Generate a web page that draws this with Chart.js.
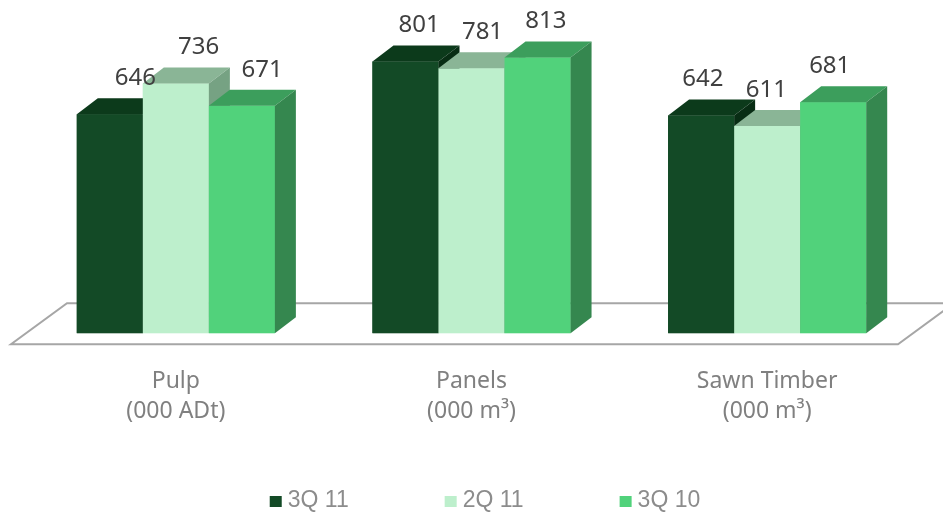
<!DOCTYPE html>
<html>
<head>
<meta charset="utf-8">
<script src="https://cdn.jsdelivr.net/npm/chart.js@4.4.0/dist/chart.umd.min.js"></script>
<style>
html, body { margin: 0; padding: 0; background: #fff; }
</style>
</head>
<body>
<canvas id="chart" width="943" height="514"></canvas>
<script>
var categories = [["Pulp", "(000 ADt)"], ["Panels", "(000 m³)"], ["Sawn Timber", "(000 m³)"]];
var seriesNames = ["3Q 11", "2Q 11", "3Q 10"];
var series3Q11 = [646, 801, 642];
var series2Q11 = [736, 781, 611];
var series3Q10 = [671, 813, 681];

var frontColors = ["#134a26", "#bdefcc", "#51d27b"];
var topColors = ["#0c3a1b", "#8ab596", "#3c9e5c"];
var sideColors = ["#082d14", "#76a283", "#35874f"];

// depth of the fake 3d
var depthX = 21;
var depthY = 16;

function poly(ctx, pts, fill) {
    ctx.beginPath();
    ctx.moveTo(pts[0][0], pts[0][1]);
    for (let i = 1; i < pts.length; i++) {
        ctx.lineTo(pts[i][0], pts[i][1]);
    }
    ctx.closePath();
    ctx.fillStyle = fill;
    ctx.fill();
}

var floorPlugin = {
    id: "floor",
    beforeDatasetsDraw: function(chart) {
        var ctx = chart.ctx;
        var a = chart.chartArea;
        ctx.save();
        ctx.beginPath();
        ctx.moveTo(a.left - 17, a.bottom + 11);
        ctx.lineTo(a.right - 17, a.bottom + 11);
        ctx.lineTo(a.right + 39, a.bottom - 30);
        ctx.lineTo(a.left + 39, a.bottom - 30);
        ctx.closePath();
        ctx.fillStyle = "#ffffff";
        ctx.fill();
        ctx.lineWidth = 2;
        ctx.strokeStyle = "#a6a6a6";
        ctx.stroke();
        ctx.restore();
    }
};

// chart.js draws datasets last to first, so redo the boxes here in order
var boxPlugin = {
    id: "box3d",
    afterDatasetsDraw: function(chart) {
        var ctx = chart.ctx;
        var mid = chart.width / 2;
        ctx.save();
        chart.data.datasets.forEach(function(ds, i) {
            chart.getDatasetMeta(i).data.forEach(function(bar) {
                var l = bar.x - bar.width / 2;
                var r = bar.x + bar.width / 2;
                var t = bar.y;
                var b = bar.base;
                poly(ctx, [[l, t], [r, t], [r, b], [l, b]], frontColors[i]);
                poly(ctx, [[l, t], [l + depthX, t - depthY], [r + depthX, t - depthY], [r, t]], topColors[i]);
                poly(ctx, [[r, t], [r + depthX, t - depthY], [r + depthX, b - depthY], [r, b]], sideColors[i]);
            });
        });

        ctx.font = "24px 'Noto Sans'";
        ctx.fillStyle = "#404040";
        ctx.textAlign = "center";
        ctx.textBaseline = "middle";
        chart.data.datasets.forEach(function(ds, i) {
            chart.getDatasetMeta(i).data.forEach(function(bar, j) {
                var shift = 11 + (mid - bar.x) * 0.04;
                ctx.fillText(ds.data[j], bar.x + shift, bar.y - 36);
            });
        });
        ctx.restore();
    }
};

var legendPlugin = {
    id: "bottomLegend",
    afterDraw: function(chart) {
        var ctx = chart.ctx;
        ctx.save();
        ctx.font = "23px 'Liberation Sans'";
        ctx.textBaseline = "middle";
        var gap = 96;
        var widths = seriesNames.map(function(n) { return 12 + 6 + ctx.measureText(n).width; });
        var total = widths.reduce(function(s, w) { return s + w; }, 0) + gap * (widths.length - 1);
        var x = 485 - total / 2;
        var y = 501;
        seriesNames.forEach(function(n, i) {
            ctx.fillStyle = frontColors[i];
            ctx.fillRect(x, y - 5, 12, 11);
            ctx.fillStyle = "#8c8c8c";
            ctx.fillText(n, x + 18, y);
            x += widths[i] + gap;
        });
        ctx.restore();
    }
};

function makeSet(i, values) {
    return {
        label: seriesNames[i],
        data: values,
        backgroundColor: frontColors[i],
        borderWidth: 0,
        barPercentage: 1,
        categoryPercentage: 0.67
    };
}

var chart = new Chart(document.getElementById("chart"), {
    type: "bar",
    data: {
        labels: categories,
        datasets: [makeSet(0, series3Q11), makeSet(1, series2Q11), makeSet(2, series3Q10)]
    },
    options: {
        responsive: false,
        animation: false,
        devicePixelRatio: 1,
        layout: { padding: { top: 28, left: 28, right: 28, bottom: 55 } },
        plugins: {
            legend: { display: false },
            tooltip: { enabled: false }
        },
        scales: {
            x: {
                grid: { display: false, drawTicks: false },
                border: { display: false },
                ticks: {
                    padding: 33,
                    color: "#808080",
                    font: { family: "'Noto Sans'", size: 23, lineHeight: 1.3 }
                }
            },
            y: { display: false, min: 0, max: 900 }
        }
    },
    plugins: [floorPlugin, boxPlugin, legendPlugin]
});
</script>
</body>
</html>
